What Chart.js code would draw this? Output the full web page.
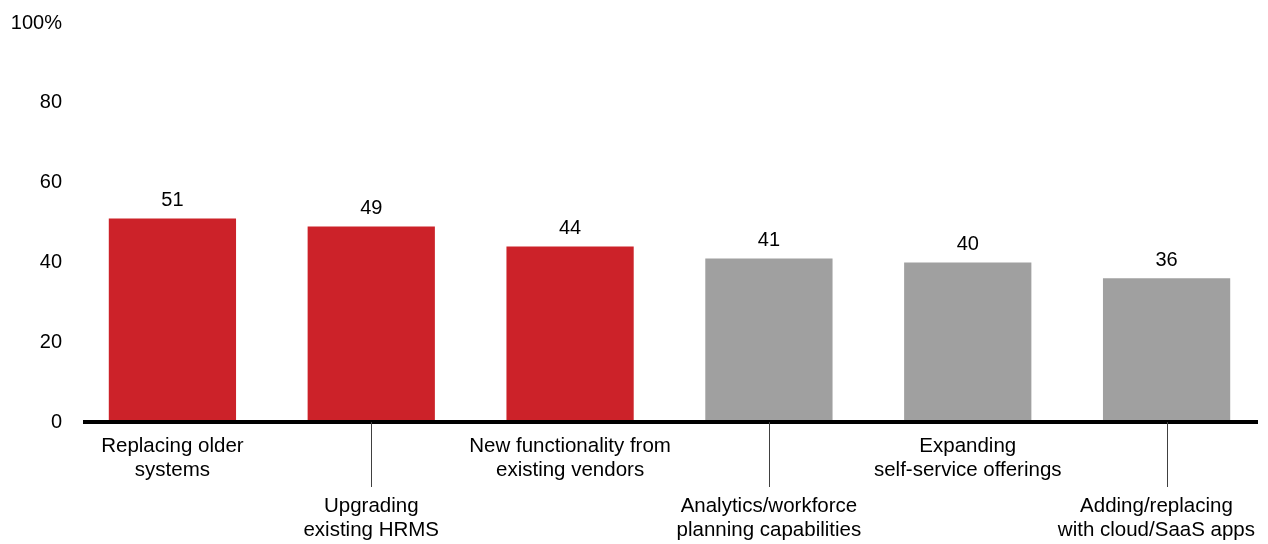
<!DOCTYPE html>
<html>
<head>
<meta charset="utf-8">
<script src="https://cdn.jsdelivr.net/npm/chart.js@4"></script>
<style>
  html, body { margin: 0; padding: 0; background: #fff; }
  #wrap { width: 1268px; height: 544px; position: relative; }
</style>
</head>
<body>
<div id="wrap"><canvas id="myChart"></canvas></div>
<script>
// data
const categories = [
    ['Replacing older', 'systems'],
    ['Upgrading', 'existing HRMS'],
    ['New functionality from', 'existing vendors'],
    ['Analytics/workforce', 'planning capabilities'],
    ['Expanding', 'self-service offerings'],
    ['Adding/replacing', 'with cloud/SaaS apps']
]
const values = [51, 49, 44, 41, 40, 36]
const highlighted = [true, true, true, false, false, false]
const yTicks = [0, 20, 40, 60, 80, 100]

const RED = '#cc2229'
const GRAY = '#a0a0a0'
const FONT = '"Liberation Sans", Arial, sans-serif'

// labels, baseline and leader lines
const extras = {
    id: 'extras',
    afterDatasetsDraw(chart) {
        const { ctx, chartArea, scales } = chart
        const x = scales.x
        const y0 = scales.y.getPixelForValue(0)
        ctx.save()

        // value labels above the bars
        ctx.fillStyle = '#000'
        ctx.font = '20px ' + FONT
        ctx.textAlign = 'center'
        ctx.textBaseline = 'bottom'
        chart.getDatasetMeta(0).data.forEach((bar, i) => {
            ctx.fillText(String(values[i]), bar.x, bar.y - 8)
        })

        // thick baseline
        ctx.strokeStyle = '#000'
        ctx.lineWidth = 4
        ctx.beginPath()
        ctx.moveTo(chartArea.left + 10, y0)
        ctx.lineTo(chartArea.right - 8, y0)
        ctx.stroke()

        // category labels, every second one dropped down with a leader line
        ctx.font = '20.5px ' + FONT
        ctx.textBaseline = 'middle'
        const maxRight = chartArea.right - 11
        categories.forEach((lines, i) => {
            const cx = x.getPixelForValue(i)
            const low = i % 2 === 1
            const top = y0 + (low ? 84 : 24)
            if (low) {
                ctx.strokeStyle = '#404040'
                ctx.lineWidth = 1
                ctx.beginPath()
                ctx.moveTo(Math.round(cx) + 0.5, y0)
                ctx.lineTo(Math.round(cx) + 0.5, y0 + 65)
                ctx.stroke()
            }
            // keep the block inside the right edge
            const w = Math.max(...lines.map(t => ctx.measureText(t).width))
            const tx = Math.min(cx, maxRight - w / 2)
            lines.forEach((t, j) => {
                ctx.fillText(t, tx, top + j * 24)
            })
        })
        ctx.restore()
    }
}

const ctx = document.getElementById('myChart').getContext('2d')
new Chart(ctx, {
    type: 'bar',
    data: {
        labels: categories.map(c => c.join(' ')),
        datasets: [{
            data: values,
            backgroundColor: highlighted.map(h => h ? RED : GRAY),
            borderWidth: 0,
            barPercentage: 0.8,
            categoryPercentage: 0.8
        }]
    },
    options: {
        responsive: true,
        maintainAspectRatio: false,
        animation: false,
        layout: {
            padding: { top: 19, bottom: 122, right: 2, left: 0 }
        },
        plugins: {
            legend: { display: false },
            tooltip: { enabled: false }
        },
        scales: {
            x: {
                display: false
            },
            y: {
                min: 0,
                max: 100,
                afterBuildTicks: (scale) => {
                    scale.ticks = yTicks.map(v => ({ value: v }))
                },
                afterFit: (scale) => {
                    scale.width = 73
                },
                grid: { display: false, drawTicks: false },
                border: { display: false },
                ticks: {
                    color: '#000',
                    padding: 11,
                    font: { family: FONT, size: 20 },
                    callback: (v) => v === 100 ? '100%' : v
                }
            }
        }
    },
    plugins: [extras]
})
</script>
</body>
</html>
